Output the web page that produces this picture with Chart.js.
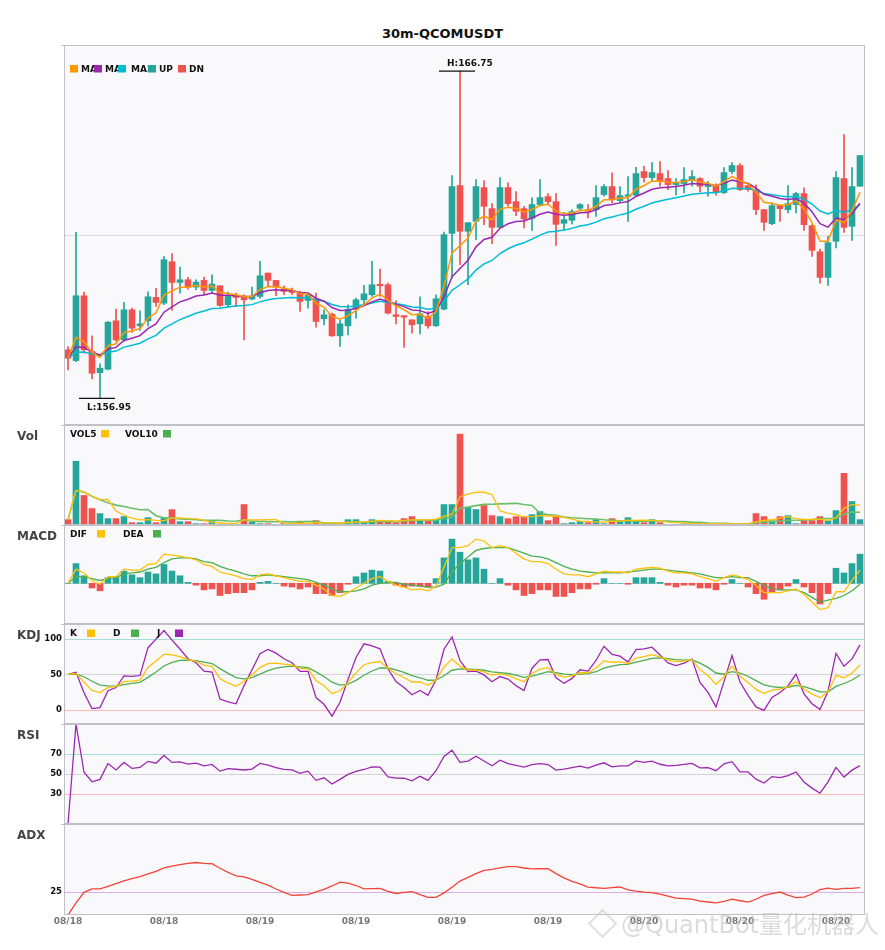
<!DOCTYPE html>
<html>
<head>
<meta charset="utf-8">
<script src="https://cdn.jsdelivr.net/npm/chart.js@4.4.1/dist/chart.umd.min.js"></script>
<style>
  body { margin: 0; background: #fff; width: 885px; height: 950px; position: relative; overflow: hidden; font-family: "DejaVu Sans", sans-serif; }
  .box { position: absolute; left: 0; width: 885px; }
  #title { position: absolute; top: 26px; left: 0; width: 885px; text-align: center; font: bold 13px "DejaVu Sans"; color: #111; }
  #wm { position: absolute; left: 621px; top: 905px; font: 24px "DejaVu Sans", "Noto Sans CJK SC"; color: rgba(190, 190, 190, 0.55); white-space: nowrap; }
  #logo { position: absolute; left: 592px; top: 913px; width: 17px; height: 17px; border: 2px solid rgba(195, 195, 195, 0.55); transform: rotate(45deg); }
</style>
</head>
<body>
<div id="title">30m-QCOMUSDT</div>
<div class="box" style="top:45px;height:380px"><canvas id="cMain"></canvas></div>
<div class="box" style="top:425px;height:100px"><canvas id="cVol"></canvas></div>
<div class="box" style="top:525px;height:99px"><canvas id="cMacd"></canvas></div>
<div class="box" style="top:624px;height:100px"><canvas id="cKdj"></canvas></div>
<div class="box" style="top:724px;height:100px"><canvas id="cRsi"></canvas></div>
<div class="box" style="top:824px;height:116px"><canvas id="cAdx"></canvas></div>
<div id="logo"></div>
<div id="wm">@QuantBot量化机器人</div>
<script>
// CANDLES (30m bars)
const opens = [158.40,158.08,160.02,158.35,157.72,157.82,159.27,158.70,159.60,159.12,
  159.27,159.97,159.80,161.04,160.42,160.50,160.28,160.48,160.18,160.32,
  159.75,160.03,160.00,159.92,160.00,160.70,160.48,160.22,160.18,160.10,
  159.88,159.92,159.33,159.47,158.82,159.12,159.62,159.90,160.05,160.35,
  160.35,159.45,159.42,159.30,159.18,159.40,159.12,159.62,161.89,163.32,
  161.95,162.25,163.26,162.63,162.07,163.26,162.84,162.63,162.34,162.75,
  162.99,162.84,162.19,162.28,162.64,162.58,162.60,163.05,163.29,162.87,
  163.00,163.03,163.74,163.56,163.68,163.53,163.35,163.38,163.47,163.53,
  163.29,163.30,163.11,163.74,163.92,163.32,163.20,162.60,162.18,162.72,
  162.60,162.75,163.08,162.12,161.34,160.57,161.65,163.53,162.10,163.30];
const highs = [158.50,161.92,160.13,158.82,157.98,159.25,159.62,159.82,159.65,159.57,
  160.14,160.24,161.19,161.28,160.88,160.57,160.50,160.58,160.65,160.32,
  160.13,160.10,160.05,160.28,161.05,160.70,160.48,160.32,160.25,160.15,
  160.10,160.10,159.60,159.50,159.30,159.75,159.95,160.33,161.05,160.82,
  160.40,159.87,159.42,159.30,159.99,159.55,160.05,161.93,163.62,166.75,
  162.21,163.50,163.47,162.78,163.56,163.40,163.14,162.70,162.95,163.50,
  163.08,163.08,162.52,162.60,162.78,162.75,163.32,163.35,163.70,163.29,
  163.59,163.87,163.90,164.01,164.04,163.77,163.53,163.86,163.77,163.56,
  163.45,163.37,163.86,164.01,163.98,163.35,163.34,162.60,162.80,162.72,
  163.32,163.12,163.25,162.15,161.42,161.80,163.74,164.85,163.86,164.22];
const lows = [157.80,158.05,158.30,157.53,156.95,157.80,158.65,158.65,158.92,158.98,
  159.12,159.70,159.75,159.58,160.10,160.22,160.20,160.05,160.12,159.70,
  159.68,159.70,158.70,159.90,159.95,160.30,160.02,160.05,160.05,159.55,
  159.65,159.08,159.15,158.80,158.50,158.85,159.35,159.75,160.00,160.00,
  159.48,159.18,158.47,158.90,158.88,159.05,159.10,159.60,160.55,160.95,
  160.35,161.70,162.15,161.58,162.05,162.70,162.42,162.05,161.98,162.70,
  162.75,161.53,161.98,162.17,162.58,162.35,162.40,163.00,162.80,162.80,
  162.25,163.00,163.42,163.46,163.30,163.20,163.03,163.10,163.30,163.12,
  163.00,163.03,163.08,163.68,163.17,163.15,162.45,161.98,162.15,162.25,
  162.50,162.50,161.98,161.20,160.40,160.33,161.45,161.92,161.68,163.30];
const closes = [158.15,160.02,158.40,157.70,157.85,159.23,158.70,159.60,159.05,159.18,
  159.99,159.82,161.10,160.42,160.50,160.28,160.43,160.18,160.37,159.73,
  160.03,159.97,159.90,160.00,160.62,160.48,160.28,160.15,160.12,159.85,
  160.03,159.25,159.45,158.82,159.18,159.62,159.90,160.08,160.35,160.32,
  159.50,159.40,159.38,159.15,159.48,159.12,159.93,161.85,163.29,161.95,
  162.21,163.29,162.70,162.07,163.26,162.78,162.55,162.32,162.75,162.96,
  162.84,162.16,162.30,162.54,162.75,162.55,162.96,163.29,162.90,163.02,
  163.02,163.68,163.56,163.71,163.47,163.35,163.39,163.50,163.59,163.30,
  163.32,163.12,163.71,163.92,163.20,163.20,162.60,162.22,162.72,162.63,
  162.78,163.08,162.15,161.38,160.57,161.61,163.56,162.07,163.29,164.22];
const volumes = [16,190,88,49,34,19,19,25,7,7,
  22,7,22,46,10,10,4,4,10,2,
  2,2,61,8,4,4,2,5,4,8,
  4,13,4,4,4,16,16,7,16,13,
  13,7,19,25,13,13,16,61,61,271,
  52,46,58,28,25,19,25,25,31,40,
  13,25,4,7,10,7,16,4,19,13,
  22,10,7,16,7,2,2,4,4,4,
  4,4,4,2,2,4,34,25,13,25,
  28,4,13,13,25,13,43,154,70,16];

// MACD PANEL
const difValues = [0.00,0.15,0.11,0.03,-0.01,0.07,0.07,0.15,0.14,0.14,
  0.20,0.21,0.31,0.30,0.29,0.27,0.25,0.20,0.18,0.12,
  0.10,0.08,0.05,0.04,0.09,0.10,0.08,0.06,0.04,0.02,
  0.02,-0.02,-0.06,-0.13,-0.14,-0.10,-0.05,0.00,0.05,0.07,
  0.02,-0.02,-0.04,-0.07,-0.06,-0.08,-0.03,0.17,0.38,0.38,
  0.40,0.47,0.45,0.38,0.40,0.38,0.32,0.26,0.23,0.23,
  0.21,0.15,0.10,0.09,0.09,0.07,0.10,0.13,0.12,0.12,
  0.11,0.15,0.16,0.17,0.16,0.13,0.11,0.11,0.10,0.07,
  0.05,0.02,0.06,0.09,0.07,0.04,-0.02,-0.10,-0.10,-0.10,
  -0.08,-0.06,-0.12,-0.20,-0.28,-0.26,-0.09,-0.09,0.03,0.14];
const deaValues = [0.00,0.07,0.07,0.05,0.03,0.05,0.06,0.10,0.11,0.12,
  0.15,0.17,0.22,0.26,0.27,0.27,0.26,0.23,0.22,0.18,
  0.15,0.13,0.10,0.08,0.08,0.09,0.08,0.07,0.06,0.05,
  0.04,0.01,-0.02,-0.06,-0.09,-0.09,-0.08,-0.06,-0.02,0.00,
  0.01,0.01,-0.01,-0.02,-0.03,-0.04,-0.04,-0.01,0.12,0.21,
  0.28,0.35,0.37,0.38,0.38,0.38,0.35,0.32,0.29,0.28,
  0.26,0.22,0.18,0.15,0.13,0.12,0.11,0.11,0.11,0.11,
  0.12,0.13,0.14,0.15,0.15,0.14,0.13,0.12,0.11,0.10,
  0.08,0.06,0.06,0.07,0.06,0.06,0.02,-0.02,-0.06,-0.07,
  -0.07,-0.07,-0.10,-0.15,-0.20,-0.18,-0.16,-0.13,-0.08,-0.01];
const macdHist = [0.00,0.21,0.08,-0.05,-0.08,0.06,0.06,0.13,0.09,0.06,
  0.12,0.10,0.20,0.13,0.08,0.01,-0.02,-0.07,-0.06,-0.13,
  -0.11,-0.10,-0.10,-0.07,0.01,0.02,0.00,-0.03,-0.04,-0.06,
  -0.04,-0.11,-0.11,-0.13,-0.10,-0.01,0.07,0.11,0.14,0.13,
  0.02,-0.02,-0.04,-0.03,-0.03,-0.04,0.05,0.27,0.47,0.33,
  0.25,0.27,0.15,0.00,0.05,-0.02,-0.07,-0.13,-0.11,-0.07,
  -0.07,-0.14,-0.14,-0.10,-0.06,-0.06,-0.01,0.05,0.00,0.00,
  -0.01,0.06,0.06,0.06,0.01,-0.02,-0.04,-0.02,-0.02,-0.05,
  -0.05,-0.07,-0.01,0.04,0.00,-0.04,-0.11,-0.17,-0.10,-0.07,
  -0.03,0.04,-0.04,-0.10,-0.22,-0.11,0.16,0.11,0.21,0.31];

// X AXIS
const xTickLabels = ["08/18", "08/18", "08/19", "08/19", "08/19", "08/19", "08/20", "08/20", "08/20"];
const tickEvery = 12;
const categories = opens.map((_, i) => i);

// AXIS RANGES
const priceMin = 156.15, priceMax = 167.53;
const macdMin = -0.433, macdMax = 0.62;
const kdjMin = -20.2, kdjMax = 121.2;

const UP = "#26a69a", DN = "#ef5350";
const candleColors = closes.map((c, i) => (c >= opens[i] ? UP : DN));

// INDICATORS (derived from the candles above)
function ema(arr, n) {
  const k = 2 / (n + 1);
  const out = [];
  arr.forEach((v, i) => out.push(i === 0 ? v : out[i - 1] + k * (v - out[i - 1])));
  return out;
}
function sma(arr, n) {
  return arr.map((_, i) => {
    const s = arr.slice(Math.max(0, i - n + 1), i + 1);
    return s.reduce((a, b) => a + b, 0) / s.length;
  });
}
// smoothing that starts from zero on the first bar
function smooth0(arr, k) {
  const out = [];
  arr.forEach((v, i) => out.push(i === 0 ? 0 : out[i - 1] + k * (v - out[i - 1])));
  return out;
}

const ma5 = ema(closes, 5), ma10 = ema(closes, 10), ma20 = ema(closes, 20);
const vol5 = sma(volumes, 5), vol10 = sma(volumes, 10);

// KDJ
const kArr = [], dArr = [], jArr = [];
closes.forEach((c, i) => {
  const from = Math.max(0, i - 8);
  const hh = Math.max(...highs.slice(from, i + 1));
  const ll = Math.min(...lows.slice(from, i + 1));
  const rsv = hh === ll ? 50 : ((c - ll) / (hh - ll)) * 100;
  const k = ((i ? kArr[i - 1] : 50) * 2 + rsv) / 3;
  const d = ((i ? dArr[i - 1] : 50) * 2 + k) / 3;
  kArr.push(k); dArr.push(d); jArr.push(3 * k - 2 * d);
});

// RSI (Wilder, 14)
const gains = closes.map((c, i) => (i ? Math.max(c - closes[i - 1], 0) : 0));
const losses = closes.map((c, i) => (i ? Math.max(closes[i - 1] - c, 0) : 0));
const ag = smooth0(gains, 1 / 14), al = smooth0(losses, 1 / 14);
const rsi = ag.map((g, i) => (g + al[i] === 0 ? 0 : (100 * g) / (g + al[i])));

// ADX (14)
const pdm = [], mdm = [], tr = [];
closes.forEach((c, i) => {
  if (i === 0) { pdm.push(0); mdm.push(0); tr.push(highs[0] - lows[0]); return; }
  const up = highs[i] - highs[i - 1], dn = lows[i - 1] - lows[i];
  pdm.push(up > dn && up > 0 ? up : 0);
  mdm.push(dn > up && dn > 0 ? dn : 0);
  tr.push(Math.max(highs[i] - lows[i], Math.abs(highs[i] - closes[i - 1]), Math.abs(lows[i] - closes[i - 1])));
});
const sp = smooth0(pdm, 2 / 15), sm = smooth0(mdm, 2 / 15), st = ema(tr, 14);
const dx = sp.map((p, i) => {
  const pdi = (100 * p) / st[i], mdi = (100 * sm[i]) / st[i];
  return pdi + mdi === 0 ? 0 : (100 * Math.abs(pdi - mdi)) / (pdi + mdi);
});
const adx = smooth0(dx, 2 / 15);

// PANEL DECORATION
function panel(cfg) {
  return {
    id: "panel",
    beforeDraw(chart) {
      const { ctx, chartArea: a } = chart;
      ctx.save();
      ctx.fillStyle = "#f9f9fc";
      ctx.fillRect(a.left, a.top, a.right - a.left, a.bottom - a.top);
      ctx.restore();
    },
    beforeDatasetsDraw(chart) {
      const { ctx, chartArea: a } = chart;
      const y = chart.scales.y;
      ctx.save();
      (cfg.refLines || []).forEach((r) => {
        const py = Math.round(y.getPixelForValue(r.value)) + 0.5;
        ctx.strokeStyle = r.color;
        ctx.lineWidth = 1;
        ctx.beginPath();
        ctx.moveTo(a.left, py);
        ctx.lineTo(a.right, py);
        ctx.stroke();
      });
      ctx.restore();
    },
    afterDraw(chart) {
      const { ctx, chartArea: a } = chart;
      const x = chart.scales.x, y = chart.scales.y;
      ctx.save();
      // border
      ctx.strokeStyle = "#c0c0c8";
      ctx.lineWidth = 1;
      ctx.strokeRect(a.left + 0.5, a.top + 0.5, a.right - a.left, a.bottom - a.top - 1);
      ctx.beginPath();
      ctx.moveTo(a.left - 3, a.top + 0.5);
      ctx.lineTo(a.left, a.top + 0.5);
      ctx.stroke();
      // panel name
      if (cfg.label) {
        ctx.fillStyle = "#444";
        ctx.font = 'bold 12px "DejaVu Sans"';
        ctx.textBaseline = "middle";
        ctx.textAlign = "left";
        ctx.fillText(cfg.label, 17, a.top + 11.5);
      }
      // legend
      ctx.font = 'bold 9px "DejaVu Sans"';
      ctx.textBaseline = "middle";
      ctx.textAlign = "left";
      (cfg.legend || []).forEach((it, n, all) => {
        ctx.save();
        if (cfg.boxFirst && n < all.length - 1) {
          ctx.beginPath();
          ctx.rect(it.tx, 0, all[n + 1].bx - it.tx, chart.height);
          ctx.clip();
        }
        ctx.fillStyle = "#111";
        ctx.fillText(it.text, it.tx, cfg.legendY + 0.5);
        ctx.restore();
        ctx.fillStyle = it.color;
        ctx.fillRect(it.bx, cfg.legendY - 4, 8, 7.5);
      });
      // y tick labels
      ctx.font = 'bold 8.5px "DejaVu Sans"';
      ctx.textAlign = "right";
      ctx.fillStyle = "#111";
      (cfg.ticks || []).forEach((t) => ctx.fillText(String(t), 62, y.getPixelForValue(t)));
      // x tick labels
      if (cfg.xLabels) {
        ctx.font = 'bold 9px "DejaVu Sans"';
        ctx.textAlign = "center";
        ctx.fillStyle = "#777";
        categories.forEach((i) => {
          if (i % tickEvery === 0) ctx.fillText(xTickLabels[i / tickEvery], x.getPixelForValue(i), a.bottom + 7);
        });
      }
      // high / low markers
      if (cfg.hl) {
        const hi = highs.indexOf(Math.max(...highs));
        const lo = lows.indexOf(Math.min(...lows));
        ctx.font = 'bold 9px "DejaVu Sans"';
        ctx.textAlign = "left";
        ctx.fillStyle = "#111";
        ctx.strokeStyle = "#111";
        ctx.lineWidth = 1.2;
        [[hi, highs[hi], "H:", -7], [lo, lows[lo], "L:", 9]].forEach(([i, v, p, dy]) => {
          const px = x.getPixelForValue(i), py = y.getPixelForValue(v);
          ctx.beginPath();
          ctx.moveTo(px - 21, py);
          ctx.lineTo(px + 15, py);
          ctx.stroke();
          ctx.fillText(p + v.toFixed(2), px - 13, py + dy);
        });
      }
      ctx.restore();
    },
  };
}

const base = (yMin, yMax) => ({
  animation: false,
  responsive: true,
  maintainAspectRatio: false,
  layout: { padding: { left: 64, right: 21, top: 0, bottom: 0 } },
  scales: {
    x: { display: false, offset: true },
    y: { display: false, min: yMin, max: yMax },
  },
  plugins: { legend: { display: false }, tooltip: { enabled: false } },
  elements: { point: { radius: 0 }, line: { tension: 0 } },
});
const lineSet = (data, color, w) => ({ type: "line", data, borderColor: color, borderWidth: w || 1.3, pointRadius: 0, fill: false });

// MAIN CANDLES
new Chart(document.getElementById("cMain"), {
  type: "bar",
  data: {
    labels: categories,
    datasets: [
      lineSet(ma5, "#ff9800", 1.5),
      lineSet(ma10, "#9c27b0", 1.5),
      lineSet(ma20, "#00bcd4", 1.5),
      { data: opens.map((o, i) => [o, closes[i]]), backgroundColor: candleColors, barThickness: 6, grouped: false, minBarLength: 1.5 },
      { data: lows.map((l, i) => [l, highs[i]]), backgroundColor: candleColors, barThickness: 1, grouped: false },
    ],
  },
  options: base(priceMin, priceMax),
  plugins: [panel({
    refLines: [{ value: (priceMin + priceMax) / 2, color: "#dcdce0" }],
    boxFirst: true,
    legendY: 24,
    legend: [
      { text: "MA5", color: "#ff9800", bx: 70, tx: 81 },
      { text: "MA10", color: "#9c27b0", bx: 94, tx: 105 },
      { text: "MA20", color: "#00bcd4", bx: 118, tx: 131 },
      { text: "UP", color: UP, bx: 148, tx: 159 },
      { text: "DN", color: DN, bx: 178, tx: 189 },
    ],
    hl: true,
  })],
});

// VOLUME
new Chart(document.getElementById("cVol"), {
  type: "bar",
  data: {
    labels: categories,
    datasets: [
      lineSet(vol5, "#ffc107"),
      lineSet(vol10, "#6abf69", 1.6),
      { data: volumes, backgroundColor: candleColors, barThickness: 6 },
    ],
  },
  options: base(0, Math.max(...volumes) * 1.1),
  plugins: [panel({
    label: "Vol",
    legendY: 9,
    legend: [
      { text: "VOL5", color: "#ffc107", tx: 70, bx: 101 },
      { text: "VOL10", color: "#4caf50", tx: 125, bx: 163 },
    ],
  })],
});

// MACD
new Chart(document.getElementById("cMacd"), {
  type: "bar",
  data: {
    labels: categories,
    datasets: [
      lineSet(difValues, "#ffc107"),
      lineSet(deaValues, "#4caf50"),
      { data: macdHist, backgroundColor: macdHist.map((h) => (h >= 0 ? UP : DN)), barThickness: 6 },
    ],
  },
  options: base(macdMin, macdMax),
  plugins: [panel({
    label: "MACD",
    refLines: [{ value: 0, color: "#d0d0d4" }],
    legendY: 9,
    legend: [
      { text: "DIF", color: "#ffc107", tx: 70, bx: 97 },
      { text: "DEA", color: "#4caf50", tx: 123, bx: 153 },
    ],
  })],
});

// KDJ
new Chart(document.getElementById("cKdj"), {
  type: "line",
  data: {
    labels: categories,
    datasets: [lineSet(kArr, "#ffc107"), lineSet(dArr, "#4caf50"), lineSet(jArr, "#9c27b0")],
  },
  options: base(kdjMin, kdjMax),
  plugins: [panel({
    label: "KDJ",
    refLines: [
      { value: 100, color: "#a8dcd6" },
      { value: 50, color: "#d4d4d8" },
      { value: 0, color: "#ffb8b8" },
    ],
    ticks: [100, 50, 0],
    legendY: 9.5,
    legend: [
      { text: "K", color: "#ffc107", tx: 70, bx: 87 },
      { text: "D", color: "#4caf50", tx: 113, bx: 131 },
      { text: "J", color: "#9c27b0", tx: 157, bx: 175 },
    ],
  })],
});

// RSI
new Chart(document.getElementById("cRsi"), {
  type: "line",
  data: { labels: categories, datasets: [lineSet(rsi, "#9c27b0")] },
  options: base(0, 100),
  plugins: [panel({
    label: "RSI",
    refLines: [
      { value: 70, color: "#a8dcd6" },
      { value: 50, color: "#d4d4d8" },
      { value: 30, color: "#ffb8b8" },
    ],
    ticks: [70, 50, 30],
  })],
});

// ADX
const adxOpts = base(0, 100);
adxOpts.layout.padding.bottom = 25;
new Chart(document.getElementById("cAdx"), {
  type: "line",
  data: { labels: categories, datasets: [lineSet(adx, "#f44336")] },
  options: adxOpts,
  plugins: [panel({
    label: "ADX",
    refLines: [{ value: 25, color: "#dcaee6" }],
    ticks: [25],
    xLabels: true,
  })],
});
</script>
</body>
</html>
